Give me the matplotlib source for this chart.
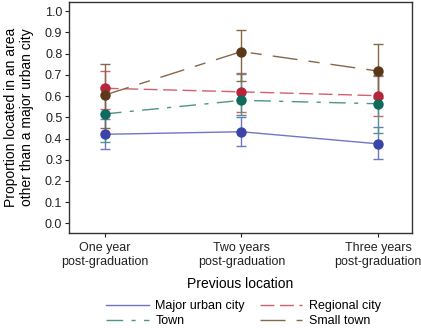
import matplotlib
matplotlib.use("Agg")
import matplotlib.pyplot as plt
from matplotlib.lines import Line2D

plt.rcParams['font.family'] = ['Liberation Sans', 'DejaVu Sans']

categories = ["One year\npost-graduation", "Two years\npost-graduation", "Three years\npost-graduation"]
series_names = ["Major urban city", "Regional city", "Town", "Small town"]

major_mean = [0.42, 0.432, 0.375]
major_lo = [0.349, 0.363, 0.305]
major_hi = [0.49, 0.50, 0.453]

regional_mean = [0.637, 0.62, 0.602]
regional_lo = [0.54, 0.523, 0.506]
regional_hi = [0.72, 0.71, 0.696]

town_mean = [0.516, 0.58, 0.564]
town_lo = [0.385, 0.51, 0.425]
town_hi = [0.645, 0.705, 0.70]

small_mean = [0.605, 0.81, 0.718]
small_lo = [0.448, 0.67, 0.59]
small_hi = [0.753, 0.91, 0.847]

yticks = [0.0, 0.1, 0.2, 0.3, 0.4, 0.5, 0.6, 0.7, 0.8, 0.9, 1.0]

colors = ["#3a45a8", "#b8243a", "#0e6b5e", "#5a3818"]
line_colors = ["#6f77c2", "#d0606e", "#4c958a", "#85674a"]
dash_styles = ["-", (0, (10, 4)), (0, (12, 6, 3, 6)), (0, (18, 8, 8, 8))]

data = [
    (major_mean, major_lo, major_hi),
    (regional_mean, regional_lo, regional_hi),
    (town_mean, town_lo, town_hi),
    (small_mean, small_lo, small_hi),
]

fig = plt.figure(figsize=(4.21, 3.28), dpi=100)
ax = fig.add_axes([0.1646, 0.2905, 0.8134, 0.7043])

x = list(range(len(categories)))
for i, (m, lo, hi) in enumerate(data):
    yerr = [[mm - l for mm, l in zip(m, lo)], [h - mm for mm, h in zip(m, hi)]]
    ax.errorbar(x, m, yerr=yerr, fmt='none', ecolor=line_colors[i], elinewidth=1.0,
                capsize=3.5, capthick=1.0, zorder=2)
    ax.plot(x, m, linestyle=dash_styles[i], color=line_colors[i], lw=1.0, zorder=3)
    ax.plot(x, m, linestyle='none', marker='o', markersize=7.5, color=colors[i],
            markeredgewidth=0, zorder=4)

ax.set_xlim(-0.26, 2.247)
ax.set_ylim(-0.044, 1.045)
ax.set_yticks(yticks)
ax.set_yticklabels([f"{v:.1f}" for v in yticks])
ax.set_xticks(x)
ax.set_xticklabels(categories, linespacing=1.2)
ax.tick_params(axis='both', direction='out', length=3, width=0.8, labelsize=9, colors='#222222', pad=2)
ax.tick_params(axis='x', pad=4)
for s in ax.spines.values():
    s.set_linewidth(1.0)
    s.set_color('#333333')

ax.set_ylabel("Proportion located in an area\nother than a major urban city", fontsize=10, labelpad=8,
              linespacing=1.2)
ax.set_xlabel("Previous location", fontsize=10, labelpad=6)

order = [0, 2, 1, 3]
handles = [Line2D([0], [0], color=line_colors[i], linestyle=dash_styles[i], lw=1.0) for i in order]
labels = [series_names[i] for i in order]
fig.legend(handles, labels, loc='upper left', bbox_to_anchor=(106 / 421, 1 - 300 / 328),
           ncol=2, frameon=False, fontsize=9, handlelength=3.4, columnspacing=1.2,
           labelspacing=0.28, handletextpad=0.55, borderpad=0, borderaxespad=0)

fig.savefig("out.png", dpi=100)
